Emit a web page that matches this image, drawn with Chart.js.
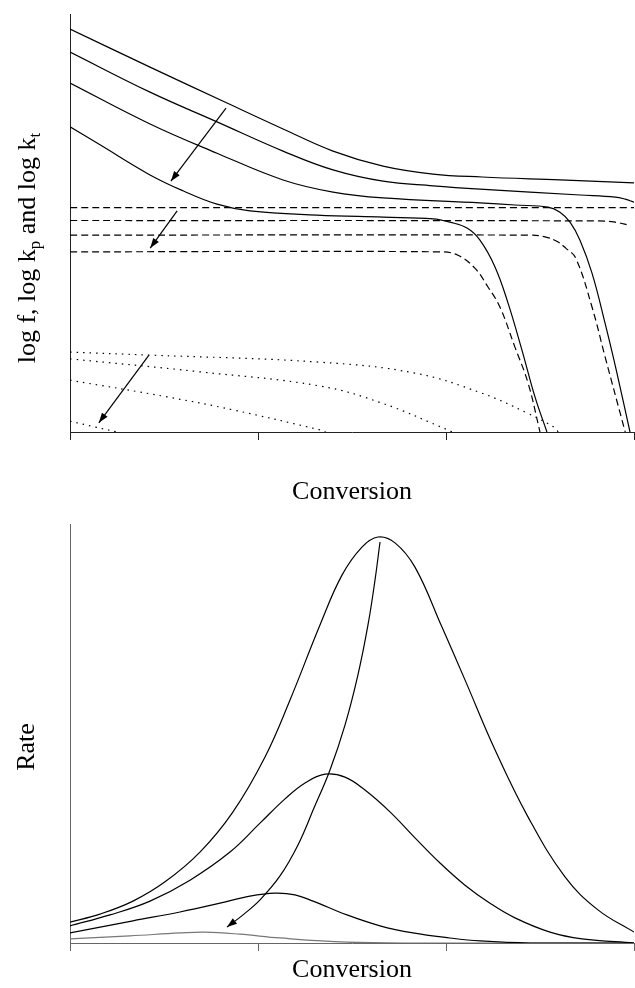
<!DOCTYPE html>
<html>
<head>
<meta charset="utf-8">
<title>Conversion profiles</title>
<script src="https://cdn.jsdelivr.net/npm/chart.js@4.4.1/dist/chart.umd.min.js"></script>
<style>
  html, body { margin: 0; padding: 0; background: #fff; }
  #wrap { position: relative; width: 635px; height: 988px; }
  .box { position: absolute; left: 0; width: 635px; }
  #top-box { top: 0; height: 510px; }
  #bottom-box { top: 510px; height: 478px; }
</style>
</head>
<body>
<div id="wrap">
  <div class="box" id="top-box"><canvas id="log-chart"></canvas></div>
  <div class="box" id="bottom-box"><canvas id="rate-chart"></canvas></div>
</div>
<script>
// conversion in %, log values in arbitrary units
const logF1 = [[0,9.64],[12.77,8.73],[25.05,7.87],[34.0,7.25],[41.97,6.72],[49.95,6.36],[57.93,6.17],[65.74,6.10],[78.19,6.03],[90,5.96]];
const logF2 = [[0,9.09],[12.77,8.13],[23.46,7.42],[34.0,6.72],[41.97,6.27],[49.95,6.00],[57.93,5.89],[65.42,5.81],[81.38,5.67],[87.0,5.62],[88.6,5.57],[90,5.50]];
const logF3 = [[0,8.35],[12.77,7.37],[23.46,6.67],[34.0,6.03],[41.97,5.74],[49.95,5.60],[65.42,5.48],[71.01,5.43],[76.27,5.38],[78.19,5.26],[79.79,5.02],[81.38,4.59],[83.30,3.80],[85.37,2.61],[87.28,1.41],[89.36,0]];
const logF4 = [[0,7.30],[4.79,6.87],[12.77,6.15],[18.03,5.77],[23.46,5.45],[28.72,5.29],[39.41,5.19],[49.95,5.14],[57.93,5.10],[60.64,5.02],[63.35,4.88],[65.42,4.59],[67.82,3.95],[69.89,3.09],[72.12,1.96],[74.20,0.84],[76.11,0]];

const logKp1 = [[0,5.37],[90,5.37]];
const logKp2 = [[0,5.06],[84.3,5.05],[87.0,5.02],[89.4,4.94]];
const logKp3 = [[0,4.71],[73.4,4.71],[75.8,4.67],[77.6,4.57],[79.1,4.40],[80.7,4.16],[83.3,2.99],[85.4,1.79],[88.6,0]];
const logKp4 = [[0,4.31],[59.0,4.31],[61.9,4.23],[64.6,3.92],[66.7,3.47],[68.6,2.99],[71.0,2.03],[73.1,1.17],[75.0,0]];

const logKt1 = [[0,1.91],[12.8,1.84],[39.9,1.67],[55.0,1.41],[65.7,0.93],[73.0,0.45],[77.4,0.10],[77.9,0]];
const logKt2 = [[0,1.75],[20.7,1.44],[39.9,1.10],[49.8,0.69],[60.3,0.05],[61.0,0]];
const logKt3 = [[0,1.24],[15.5,0.84],[26.0,0.53],[39.9,0.05],[40.8,0]];
const logKt4 = [[0,0.26],[4.0,0.12],[7.5,0]];

// arrows: [from, to]
const arrowF = [[24.9,7.75],[16.1,6.00]];
const arrowKp = [[17.1,5.29],[12.8,4.40]];
const arrowKt = [[12.6,1.84],[4.6,0.22]];

// polymerization rate, normalised
const rate1 = [[0,0.050],[4.79,0.069],[10.05,0.100],[15.16,0.146],[20.74,0.217],[26.01,0.313],[31.12,0.444],[35.11,0.580],[39.89,0.759],[43.40,0.878],[46.59,0.945],[49.15,0.969],[51.86,0.955],[55.05,0.897],[59.36,0.754],[63.03,0.628],[67.82,0.461],[73.08,0.301],[78.99,0.158],[84.25,0.079],[90,0.026]];
const rate2 = [[0,0.041],[6.38,0.067],[12.77,0.100],[19.15,0.150],[25.53,0.217],[30.32,0.286],[34.31,0.344],[37.50,0.382],[40.69,0.403],[43.88,0.396],[47.07,0.365],[51.06,0.313],[55.05,0.251],[59.04,0.191],[63.03,0.138],[67.02,0.095],[71.01,0.060],[76.60,0.026],[81.70,0.010],[90,0]];
const rate3 = [[0,0.024],[10.05,0.053],[17.55,0.074],[23.94,0.095],[28.72,0.112],[32.71,0.119],[35.90,0.115],[38.78,0.100],[44.20,0.067],[49.47,0.041],[54.73,0.024],[60.64,0.012],[65.42,0.005],[73.40,0],[90,0]];
const rate4 = [[0,0.010],[9.57,0.017],[17.55,0.024],[21.54,0.026],[27.13,0.021],[33.51,0.012],[44.20,0.002],[54.73,0],[90,0]];
// path of the rate maximum
const peakPath = [[49.47,0.957],[48.67,0.866],[47.55,0.759],[45.95,0.640],[43.88,0.520],[41.49,0.413],[38.93,0.322],[36.38,0.234],[33.51,0.160],[30.32,0.103],[27.76,0.069],[25.05,0.038]];

const SERIF = "'Liberation Serif', 'Times New Roman', serif";
Chart.defaults.font.family = SERIF;

function toXY(points) {
    return points.map(p => ({x: p[0], y: p[1]}));
}

function line(points, dash, color) {
    return {
        data: toXY(points),
        borderColor: color || '#000',
        borderWidth: 1.2,
        borderDash: dash || [],
        pointRadius: 0,
        fill: false,
        tension: 0.4
    };
}

function arrowHead(ctx, x0, y0, x1, y1) {
    const ang = Math.atan2(y1 - y0, x1 - x0);
    const len = 10, half = 3.5;
    const bx = x1 - len * Math.cos(ang), by = y1 - len * Math.sin(ang);
    ctx.beginPath();
    ctx.moveTo(x1, y1);
    ctx.lineTo(bx + half * Math.sin(ang), by - half * Math.cos(ang));
    ctx.lineTo(bx - half * Math.sin(ang), by + half * Math.cos(ang));
    ctx.closePath();
    ctx.fill();
}

// arrows and the rotated y title (which needs subscripts)
const decorations = {
    id: 'decorations',
    afterDatasetsDraw(chart, args, opts) {
        const {ctx} = chart;
        const xs = chart.scales.x, ys = chart.scales.y;
        ctx.save();
        ctx.strokeStyle = '#000';
        ctx.fillStyle = '#000';
        ctx.lineWidth = 1.2;
        (opts.arrows || []).forEach(([from, to]) => {
            const x0 = xs.getPixelForValue(from[0]), y0 = ys.getPixelForValue(from[1]);
            const x1 = xs.getPixelForValue(to[0]), y1 = ys.getPixelForValue(to[1]);
            ctx.beginPath();
            ctx.moveTo(x0, y0);
            ctx.lineTo(x1, y1);
            ctx.stroke();
            arrowHead(ctx, x0, y0, x1, y1);
        });
        if (opts.headOn != null) {
            const pts = chart.getDatasetMeta(opts.headOn).data;
            const a = pts[pts.length - 2], b = pts[pts.length - 1];
            arrowHead(ctx, a.x, a.y, b.x, b.y);
        }
        ctx.restore();
    },
    afterDraw(chart, args, opts) {
        const t = opts.yTitle;
        if (!t) return;
        const {ctx} = chart;
        const big = '26px ' + SERIF, small = '17px ' + SERIF;
        ctx.save();
        let total = 0;
        t.parts.forEach(p => {
            ctx.font = p.sub ? small : big;
            total += ctx.measureText(p.text).width;
        });
        ctx.translate(t.x, t.y);
        ctx.rotate(-Math.PI / 2);
        ctx.fillStyle = '#000';
        ctx.textBaseline = 'alphabetic';
        let pos = -total / 2;
        t.parts.forEach(p => {
            ctx.font = p.sub ? small : big;
            ctx.fillText(p.text, pos, p.sub ? 5 : 0);
            pos += ctx.measureText(p.text).width;
        });
        ctx.restore();
    }
};

function axes(yMax, axisColor, xHeight) {
    return {
        x: {
            type: 'linear',
            min: 0,
            max: 90,
            ticks: {stepSize: 30, display: false},
            grid: {display: true, drawOnChartArea: false, drawTicks: true, tickLength: 8, color: axisColor, lineWidth: 1},
            border: {display: true, color: axisColor, width: 1},
            title: {display: true, text: 'Conversion', color: '#000', font: {family: SERIF, size: 26}, padding: {top: 0, bottom: 2}},
            afterFit: s => { s.height = xHeight; }
        },
        y: {
            type: 'linear',
            min: 0,
            max: yMax,
            ticks: {display: false},
            grid: {display: false},
            border: {display: true, color: axisColor, width: 1},
            afterFit: s => { s.width = 70; }
        }
    };
}

new Chart(document.getElementById('log-chart'), {
    type: 'line',
    data: {
        datasets: [
            line(logF1), line(logF2), line(logF3), line(logF4),
            line(logKp1, [7, 4]), line(logKp2, [7, 4]), line(logKp3, [7, 4]), line(logKp4, [7, 4]),
            line(logKt1, [1.5, 5]), line(logKt2, [1.5, 5]), line(logKt3, [1.5, 5]), line(logKt4, [1.5, 5])
        ]
    },
    options: {
        responsive: true,
        maintainAspectRatio: false,
        animation: false,
        layout: {padding: {top: 14, right: 1, left: 0, bottom: 0}},
        scales: axes(10, '#222', 78),
        plugins: {
            legend: {display: false},
            tooltip: {enabled: false},
            decorations: {
                arrows: [arrowF, arrowKp, arrowKt],
                yTitle: {
                    x: 35, y: 248,
                    parts: [{text: 'log f, log k'}, {text: 'p', sub: true}, {text: ' and log k'}, {text: 't', sub: true}]
                }
            }
        }
    },
    plugins: [decorations]
});

new Chart(document.getElementById('rate-chart'), {
    type: 'line',
    data: {
        datasets: [
            line(rate1), line(rate2), line(rate3), line(rate4, null, '#777'),
            line(peakPath)
        ]
    },
    options: {
        responsive: true,
        maintainAspectRatio: false,
        animation: false,
        layout: {padding: {top: 14, right: 1, left: 0, bottom: 0}},
        scales: axes(1, '#666', 45),
        plugins: {
            legend: {display: false},
            tooltip: {enabled: false},
            decorations: {
                headOn: 4,
                yTitle: {x: 34, y: 237, parts: [{text: 'Rate'}]}
            }
        }
    },
    plugins: [decorations]
});
</script>
</body>
</html>
